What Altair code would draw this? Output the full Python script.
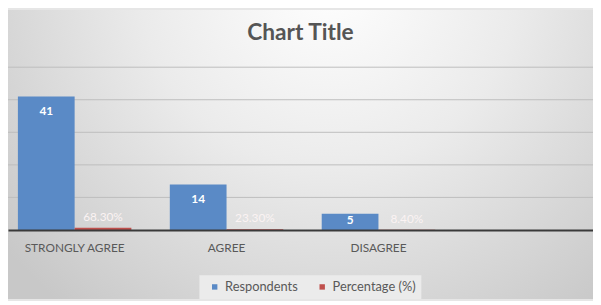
import altair as alt
import pandas as pd

categories = ["STRONGLY AGREE", "AGREE", "DISAGREE"]
respondents = [41, 14, 5]
percentage = [0.683, 0.233, 0.084]
series_names = ["Respondents", "Percentage (%)"]
series_colors = ["#5A8AC6", "#C0504D"]
grid_values = [10, 20, 30, 40, 50]

rows = []
for c, r, p in zip(categories, respondents, percentage):
    rows.append({"cat": c, "series": series_names[0], "value": r})
    rows.append({"cat": c, "series": series_names[1], "value": p})
df = pd.DataFrame(rows)
grid_df = pd.DataFrame({"v": grid_values})

FONT = "Lato"
W, H = 593, 165
PT, PB = 58, 70

x_enc = alt.X("cat:N", sort=categories,
              scale=alt.Scale(paddingInner=0.253, paddingOuter=0.552, align=0.059),
              axis=alt.Axis(title=None, labelAngle=0, ticks=False, domain=True,
                            domainColor="#3a3a3a", domainWidth=2, labelFont=FONT,
                            labelFontSize=12, labelColor="#595959", labelPadding=13,
                            zindex=1))
y_scale = alt.Scale(domain=[0, 50], nice=False)

bg = alt.Chart(df).mark_rect(
    color=alt.Gradient(gradient="radial",
                       stops=[alt.GradientStop(color="#ffffff", offset=0),
                              alt.GradientStop(color="#ebebeb", offset=0.45),
                              alt.GradientStop(color="#c8c8c8", offset=1)],
                       x1=0.55, y1=0.2, x2=0.55, y2=0.2, r1=0, r2=0.72)
).encode(x=alt.value(0), x2=alt.value(W), y=alt.value(-PT), y2=alt.value(H + PB))

grid = alt.Chart(grid_df).mark_rule(color="#bdbdbd", strokeWidth=1).encode(
    y=alt.Y("v:Q", scale=y_scale, axis=None)
)

bars = alt.Chart(df).mark_bar().encode(
    x=x_enc,
    xOffset=alt.XOffset("series:N", sort=series_names,
                        scale=alt.Scale(paddingInner=0, paddingOuter=0)),
    y=alt.Y("value:Q", scale=y_scale, axis=None),
    color=alt.Color("series:N", sort=series_names,
                    scale=alt.Scale(domain=series_names, range=series_colors),
                    legend=alt.Legend(title=None, orient="none", direction="horizontal",
                                      legendX=194, legendY=211, symbolType="square",
                                      symbolSize=30, symbolStrokeWidth=0,
                                      labelFont=FONT, labelFontSize=13,
                                      labelColor="#595959", fillColor="#ebebeb",
                                      padding=5, columnPadding=14, symbolOffset=4)),
)

blue_labels = alt.Chart(df).transform_filter(
    alt.datum.series == series_names[0]
).transform_calculate(
    pos="max(datum.value - 4.4, datum.value * 0.6)"
).mark_text(color="white", fontWeight="bold", fontSize=12, font=FONT, baseline="middle").encode(
    x=alt.X("cat:N", sort=categories),
    xOffset=alt.XOffset("series:N", sort=series_names),
    y=alt.Y("pos:Q", scale=y_scale),
    text=alt.Text("value:Q", format="d"),
)

red_labels = alt.Chart(df).transform_filter(
    alt.datum.series == series_names[1]
).mark_text(color="#fbf3f3", fontSize=12, font=FONT, baseline="middle", dy=-11).encode(
    x=alt.X("cat:N", sort=categories),
    xOffset=alt.XOffset("series:N", sort=series_names),
    y=alt.Y("value:Q", scale=y_scale),
    text=alt.Text("value:Q", format=".2%"),
)

chart = alt.layer(bg, grid, bars, blue_labels, red_labels).properties(
    width=W, height=H,
    autosize=alt.AutoSizeParams(type="none"),
    padding={"left": 0, "top": PT, "right": 0, "bottom": PB},
    title=alt.TitleParams("Chart Title", font=FONT, fontSize=23, fontWeight="bold",
                          color="#555555", anchor="middle", frame="group", offset=-35),
).configure_view(stroke=None).configure(background="#e6e6e6")

chart.save("out.html", embed_options={"renderer": "svg", "actions": False})
